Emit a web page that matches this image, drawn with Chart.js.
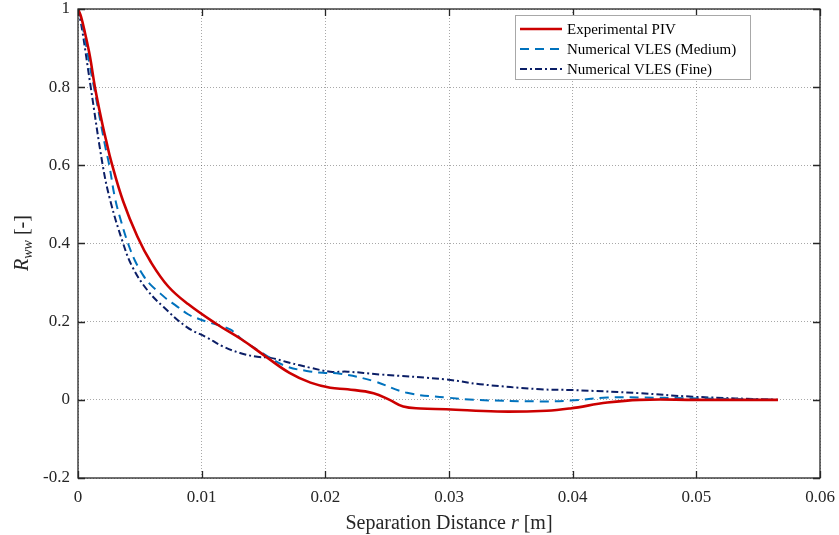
<!DOCTYPE html>
<html>
<head>
<meta charset="utf-8">
<script src="https://cdn.jsdelivr.net/npm/chart.js@4.4.1/dist/chart.umd.min.js"></script>
<style>
  body { margin: 0; background: #fff; }
</style>
</head>
<body>
<canvas id="myChart" width="839" height="535"></canvas>
<script>
// separation distance r [m] and correlation values
var rPiv = [0, 0.00025, 0.00057, 0.00097, 0.00137, 0.0019, 0.0023, 0.0027, 0.00365, 0.0048, 0.0059, 0.0073, 0.0089, 0.0112, 0.0133, 0.0153, 0.0171, 0.0188, 0.0204, 0.0218, 0.0239, 0.0252, 0.0263, 0.0277, 0.0298, 0.0339, 0.0379, 0.0398, 0.0428, 0.0454, 0.05, 0.0566];
var rwwPiv = [1, 0.98, 0.938, 0.878, 0.8, 0.716, 0.66, 0.608, 0.508, 0.418, 0.352, 0.29, 0.245, 0.194, 0.153, 0.108, 0.069, 0.044, 0.031, 0.027, 0.017, 0.0, -0.017, -0.022, -0.024, -0.03, -0.028, -0.022, -0.007, 0, 0, 0];

var rMed = [0, 0.00025, 0.00097, 0.00129, 0.00218, 0.00253, 0.003, 0.00353, 0.00407, 0.00461, 0.00526, 0.00582, 0.00663, 0.00717, 0.00784, 0.0089, 0.0096, 0.0107, 0.0123, 0.0133, 0.0145, 0.0155, 0.0169, 0.0185, 0.0198, 0.0212, 0.0239, 0.0266, 0.0298, 0.032, 0.0374, 0.0398, 0.0428, 0.0454, 0.0495, 0.0566];
var rwwMed = [1, 0.975, 0.852, 0.8, 0.652, 0.6, 0.515, 0.452, 0.398, 0.356, 0.319, 0.296, 0.273, 0.258, 0.243, 0.219, 0.209, 0.197, 0.18, 0.153, 0.128, 0.108, 0.085, 0.074, 0.069, 0.067, 0.048, 0.018, 0.006, 0, -0.004, -0.002, 0.006, 0.006, 0.004, 0];

var rFine = [0, 0.0002, 0.00038, 0.00103, 0.002, 0.0026, 0.0036, 0.0044, 0.0056, 0.0069, 0.0088, 0.0104, 0.0117, 0.0131, 0.0145, 0.0155, 0.0171, 0.0188, 0.0204, 0.0218, 0.0244, 0.0298, 0.0325, 0.0374, 0.04, 0.0454, 0.0497, 0.0566];
var rwwFine = [1, 0.97, 0.938, 0.8, 0.6, 0.511, 0.405, 0.34, 0.281, 0.238, 0.186, 0.16, 0.137, 0.12, 0.11, 0.108, 0.095, 0.082, 0.072, 0.072, 0.065, 0.052, 0.04, 0.027, 0.025, 0.017, 0.008, 0];

var seriesNames = ['Experimental PIV', 'Numerical VLES (Medium)', 'Numerical VLES (Fine)'];
var xTicks = [0, 0.01, 0.02, 0.03, 0.04, 0.05, 0.06];
var yTicks = [-0.2, 0, 0.2, 0.4, 0.6, 0.8, 1];

function toPoints(xs, ys) {
  return xs.map(function(x, i) { return {x: x, y: ys[i]}; });
}

var serif = "'Liberation Serif', 'Times New Roman', serif";
var axisColor = '#262626';

// frame, inward ticks, tick labels, axis titles and legend box
var matlabAxes = {
  id: 'matlabAxes',
  afterDraw: function(chart) {
    var ctx = chart.ctx;
    var a = chart.chartArea;
    var xs = chart.scales.x, ys = chart.scales.y;
    ctx.save();
    ctx.strokeStyle = axisColor;
    ctx.lineWidth = 1.3;
    ctx.strokeRect(a.left, a.top, a.right - a.left, a.bottom - a.top);

    ctx.beginPath();
    xTicks.forEach(function(v) {
      var px = Math.round(xs.getPixelForValue(v)) + 0.5;
      ctx.moveTo(px, a.bottom); ctx.lineTo(px, a.bottom - 7);
      ctx.moveTo(px, a.top); ctx.lineTo(px, a.top + 7);
    });
    yTicks.forEach(function(v) {
      var py = Math.round(ys.getPixelForValue(v)) + 0.5;
      ctx.moveTo(a.left, py); ctx.lineTo(a.left + 7, py);
      ctx.moveTo(a.right, py); ctx.lineTo(a.right - 7, py);
    });
    ctx.stroke();

    // tick labels
    ctx.fillStyle = axisColor;
    ctx.font = '17px ' + serif;
    ctx.textAlign = 'center';
    ctx.textBaseline = 'middle';
    xTicks.forEach(function(v) {
      ctx.fillText(String(+v.toFixed(2)), xs.getPixelForValue(v), a.bottom + 20);
    });
    ctx.textAlign = 'right';
    yTicks.forEach(function(v) {
      ctx.fillText(String(+v.toFixed(1)), a.left - 8, ys.getPixelForValue(v));
    });

    // x title: Separation Distance r [m]
    var parts = [['Separation Distance ', ''], ['r', 'italic '], [' [m]', '']];
    var w = 0;
    parts.forEach(function(p) { ctx.font = p[1] + '20px ' + serif; w += ctx.measureText(p[0]).width; });
    var x0 = (a.left + a.right) / 2 - w / 2;
    ctx.textAlign = 'left';
    ctx.textBaseline = 'alphabetic';
    parts.forEach(function(p) {
      ctx.font = p[1] + '20px ' + serif;
      ctx.fillText(p[0], x0, 529);
      x0 += ctx.measureText(p[0]).width;
    });

    // y title: R_ww [-]
    ctx.save();
    ctx.translate(28, 243);
    ctx.rotate(-Math.PI / 2);
    var yp = [['R', 'italic 20px ', 0], ['ww', 'italic 14px ', 4], [' [-]', '20px ', 0]];
    var wy = 0;
    yp.forEach(function(p) { ctx.font = p[1] + serif; wy += ctx.measureText(p[0]).width; });
    var xx = -wy / 2;
    yp.forEach(function(p) {
      ctx.font = p[1] + serif;
      ctx.fillText(p[0], xx, p[2]);
      xx += ctx.measureText(p[0]).width;
    });
    ctx.restore();

    // legend
    var lx = 515, ly = 15, lw = 235, lh = 64;
    ctx.fillStyle = '#ffffff';
    ctx.fillRect(lx, ly, lw, lh);
    ctx.strokeStyle = '#a8a8a8';
    ctx.lineWidth = 1;
    ctx.strokeRect(lx + 0.5, ly + 0.5, lw, lh);
    ctx.font = '15px ' + serif;
    ctx.textBaseline = 'middle';
    chart.data.datasets.forEach(function(ds, i) {
      var yy = 29 + i * 20;
      ctx.beginPath();
      ctx.strokeStyle = ds.borderColor;
      ctx.lineWidth = ds.borderWidth;
      ctx.setLineDash(ds.borderDash || []);
      ctx.moveTo(520, yy); ctx.lineTo(562, yy);
      ctx.stroke();
      ctx.setLineDash([]);
      ctx.fillStyle = '#000';
      ctx.fillText(ds.label, 567, yy + 1);
    });
    ctx.restore();
  }
};

var ctx = document.getElementById('myChart');

new Chart(ctx, {
  type: 'scatter',
  data: {
    datasets: [{
      label: seriesNames[0],
      data: toPoints(rPiv, rwwPiv),
      borderColor: '#cc0000',
      borderWidth: 2.6,
      showLine: true,
      pointRadius: 0,
      tension: 0.4
    }, {
      label: seriesNames[1],
      data: toPoints(rMed, rwwMed),
      borderColor: '#0072bd',
      borderWidth: 2,
      borderDash: [9, 6],
      showLine: true,
      pointRadius: 0,
      tension: 0.4
    }, {
      label: seriesNames[2],
      data: toPoints(rFine, rwwFine),
      borderColor: '#0b1e66',
      borderWidth: 2,
      borderDash: [7, 3, 2, 3],
      showLine: true,
      pointRadius: 0,
      tension: 0.4
    }]
  },
  options: {
    responsive: false,
    animation: false,
    layout: { padding: { left: 0, right: 19, top: 9, bottom: 0 } },
    plugins: {
      legend: { display: false },
      title: { display: false },
      tooltip: { enabled: false }
    },
    scales: {
      x: {
        type: 'linear',
        min: 0, max: 0.06,
        ticks: { display: false, stepSize: 0.01 },
        grid: { color: 'rgba(38,38,38,0.4)', drawTicks: false, lineWidth: 1 },
        border: { display: false, dash: [1, 2] },
        afterFit: function(s) { s.height = 57; s.paddingLeft = 0; s.paddingRight = 0; }
      },
      y: {
        min: -0.2, max: 1,
        ticks: { display: false, stepSize: 0.2 },
        grid: { color: 'rgba(38,38,38,0.4)', drawTicks: false, lineWidth: 1 },
        border: { display: false, dash: [1, 2] },
        afterFit: function(s) { s.width = 78; s.paddingTop = 0; s.paddingBottom = 0; }
      }
    }
  },
  plugins: [matlabAxes]
});
</script>
</body>
</html>
